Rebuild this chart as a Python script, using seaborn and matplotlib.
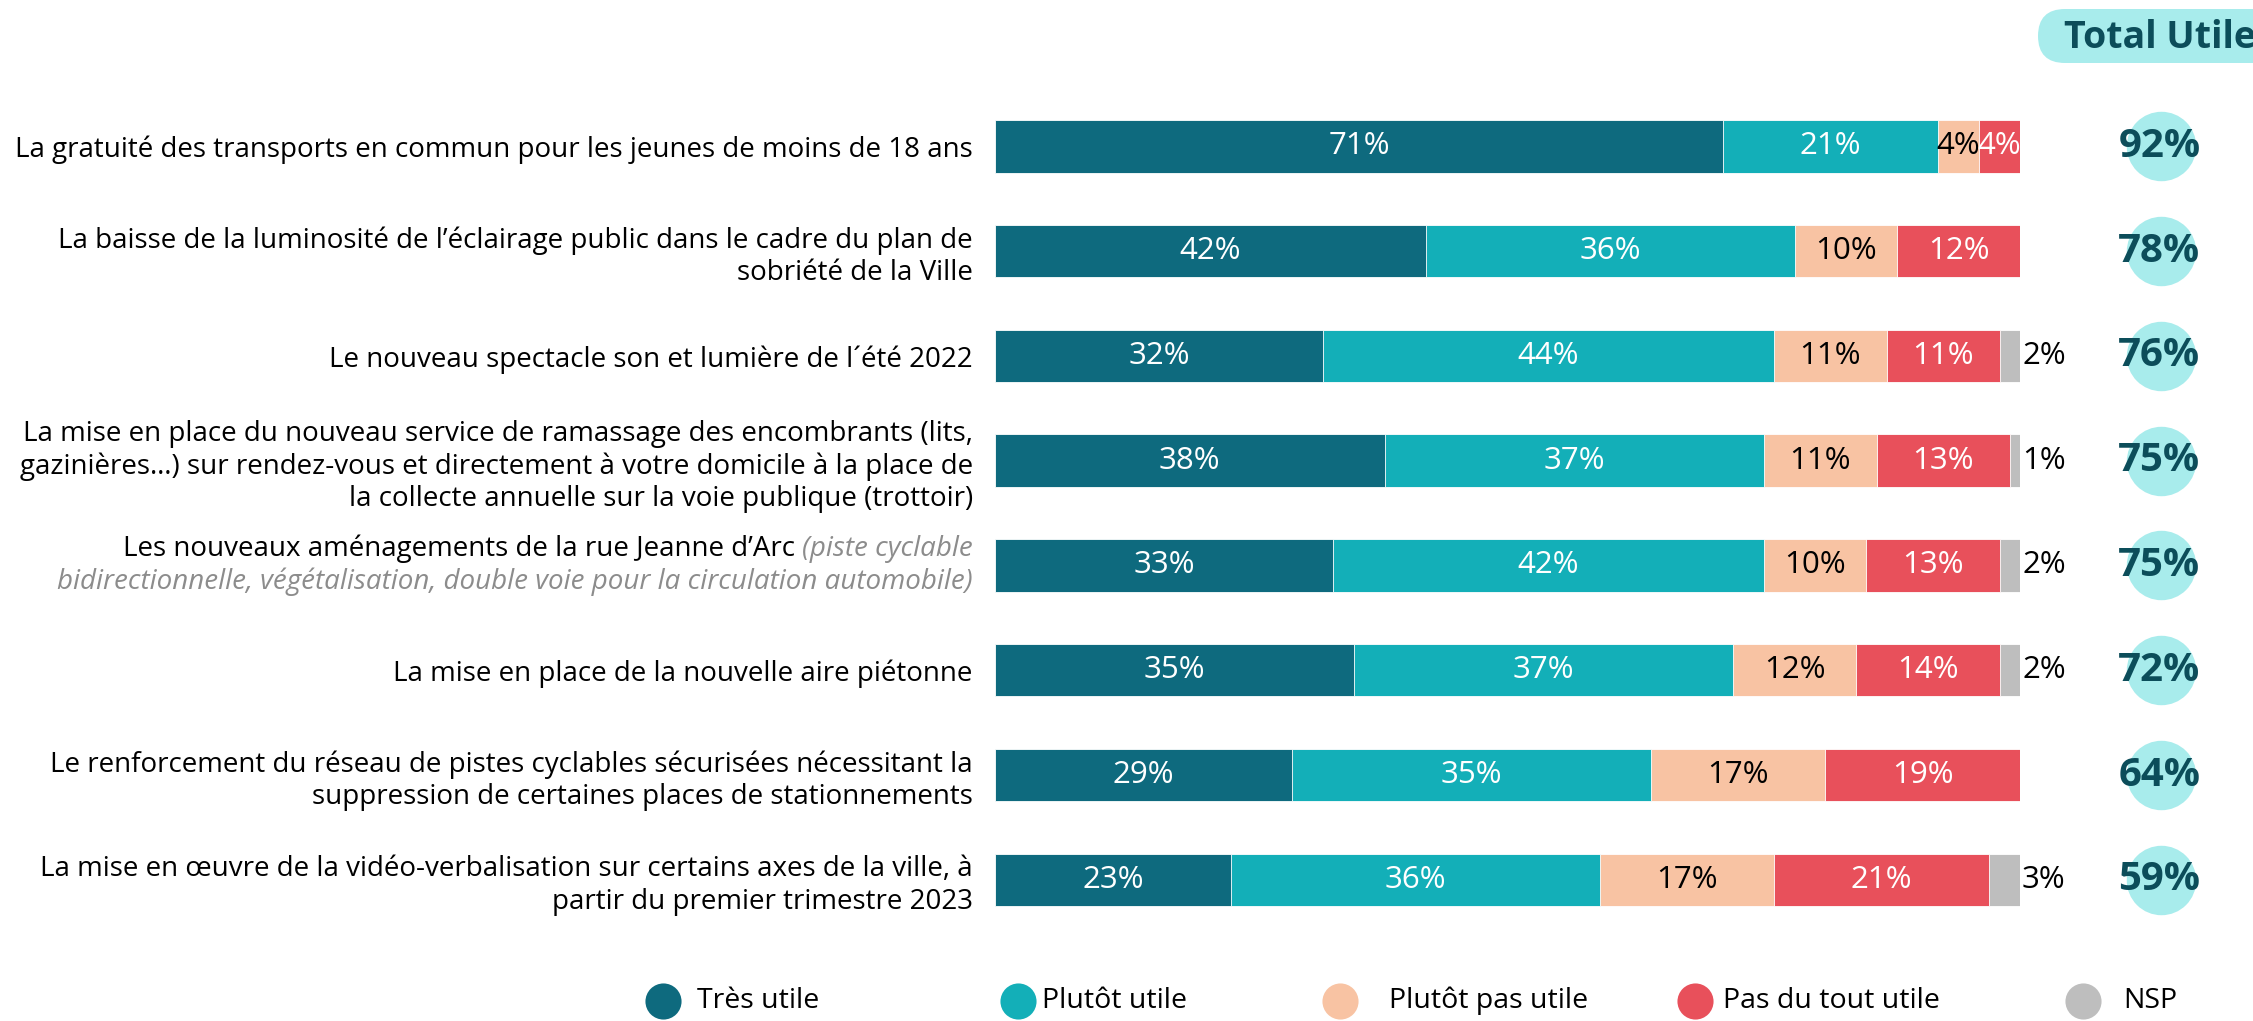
import numpy as np
import pandas as pd
import seaborn as sns
import matplotlib.pyplot as plt
from matplotlib.patches import FancyBboxPatch

# data
questions = [
    "La gratuité des transports en commun pour les jeunes de moins de 18 ans",
    "La baisse de la luminosité de l’éclairage public dans le cadre du plan de\nsobriété de la Ville",
    "Le nouveau spectacle son et lumière de l´été 2022",
    "La mise en place du nouveau service de ramassage des encombrants (lits,\ngazinières…) sur rendez-vous et directement à votre domicile à la place de\nla collecte annuelle sur la voie publique (trottoir)",
    "Les nouveaux aménagements de la rue Jeanne d’Arc",
    "La mise en place de la nouvelle aire piétonne",
    "Le renforcement du réseau de pistes cyclables sécurisées nécessitant la\nsuppression de certaines places de stationnements",
    "La mise en œuvre de la vidéo-verbalisation sur certains axes de la ville, à\npartir du premier trimestre 2023",
]
tres_utile = [71, 42, 32, 38, 33, 35, 29, 23]
plutot_utile = [21, 36, 44, 37, 42, 37, 35, 36]
plutot_pas_utile = [4, 10, 11, 11, 10, 12, 17, 17]
pas_du_tout_utile = [4, 12, 11, 13, 13, 14, 19, 21]
nsp = [0, 0, 2, 1, 2, 2, 0, 3]

series_names = ["Très utile", "Plutôt utile", "Plutôt pas utile", "Pas du tout utile", "NSP"]
colors = ["#0E6A7E", "#13AFB8", "#F8C3A3", "#E8505B", "#BEBEBE"]
label_colors = ["white", "white", "black", "white", "black"]

W, H = 2253, 1021
sns.set_theme(style="white")
plt.rcParams["font.family"] = ["Open Sans", "DejaVu Sans"]
plt.rcParams["text.color"] = "black"

fig = plt.figure(figsize=(W / 100, H / 100), dpi=100)
ax = fig.add_axes([995 / W, 0.087, 1025 / W, 0.821])

values = np.array([tres_utile, plutot_utile, plutot_pas_utile, pas_du_tout_utile, nsp], dtype=float)
cum = values.cumsum(axis=0)

# stacked bars: draw cumulative totals from the widest layer down
for i in range(len(series_names) - 1, -1, -1):
    df = pd.DataFrame({"q": questions, "v": cum[i]})
    sns.barplot(data=df, x="v", y="q", color=colors[i], saturation=1, width=0.5,
                orient="h", edgecolor="white", linewidth=0.6, ax=ax)

# segment labels
for i in range(len(series_names)):
    for r in range(len(questions)):
        v = values[i, r]
        if v <= 0:
            continue
        if i == 4:
            ax.text(cum[i, r] + 0.2, r, f"{int(v)}%", ha="left", va="center",
                    fontsize=22.5, color="black")
        else:
            ax.text(cum[i, r] - v / 2, r, f"{int(v)}%", ha="center", va="center",
                    fontsize=22.5, color=label_colors[i])

ax.set_xlim(0, 100)
ax.set_ylim(7.5, -0.5)
ax.set_xlabel("")
ax.set_ylabel("")
ax.set_xticks([])
ax.set_yticks(range(len(questions)))
tick_labels = list(questions)
tick_labels[4] = ""
ax.set_yticklabels(tick_labels, fontsize=20, linespacing=1.22, color="black")
ax.tick_params(axis="y", length=0, pad=16)
sns.despine(ax=ax, left=True, bottom=True)

# label with grey italic detail
grey = "#8C8C8C"
ytr = ax.get_yaxis_transform()
t1 = ax.text(-0.0215, 4 - 0.155, "(piste cyclable", transform=ytr, ha="right", va="center",
             fontsize=20, style="italic", color=grey)
ax.annotate("Les nouveaux aménagements de la rue Jeanne d’Arc ", xy=(0, 0.5), xycoords=t1,
            ha="right", va="center", fontsize=20, color="black")
ax.text(-0.0215, 4 + 0.155, "bidirectionnelle, végétalisation, double voie pour la circulation automobile)",
        transform=ytr, ha="right", va="center", fontsize=20, style="italic", color=grey)

# total utile column
totals = values[0] + values[1]
ax.scatter([113.8] * len(questions), range(len(questions)), s=2500, color="#A8ECEC",
           clip_on=False, zorder=1, linewidth=0)
for r, t in enumerate(totals):
    ax.text(113.6, r, f"{int(t)}%", ha="center", va="center", fontsize=29,
            fontweight="bold", color="#0C4D5A", clip_on=False, zorder=2)

pill = FancyBboxPatch((2038 / W, 1 - 63 / H), 0.2, 54 / H,
                      boxstyle="round,pad=0,rounding_size=0.012",
                      mutation_aspect=W / H, transform=fig.transFigure,
                      facecolor="#A8ECEC", edgecolor="none")
fig.add_artist(pill)
fig.text(2160 / W, 1 - 38 / H, "Total Utile", ha="center", va="center", fontsize=27,
         fontweight="bold", color="#0C4D5A")

# legend, laid out by hand like the original
legend_dot_x = [663, 1018, 1340, 1695, 2083]
legend_text_x = [697, 1042, 1389, 1723, 2123]
legend_y = 1 - 1001 / H
for name, c, dx, tx in zip(series_names, colors, legend_dot_x, legend_text_x):
    fig.add_artist(plt.Line2D([dx / W], [legend_y], marker="o", markersize=26, linestyle="",
                              markerfacecolor=c, markeredgecolor="none",
                              transform=fig.transFigure))
    fig.text(tx / W, legend_y, name, ha="left", va="center", fontsize=20.5, color="black")

fig.savefig("out.png", dpi=100)
